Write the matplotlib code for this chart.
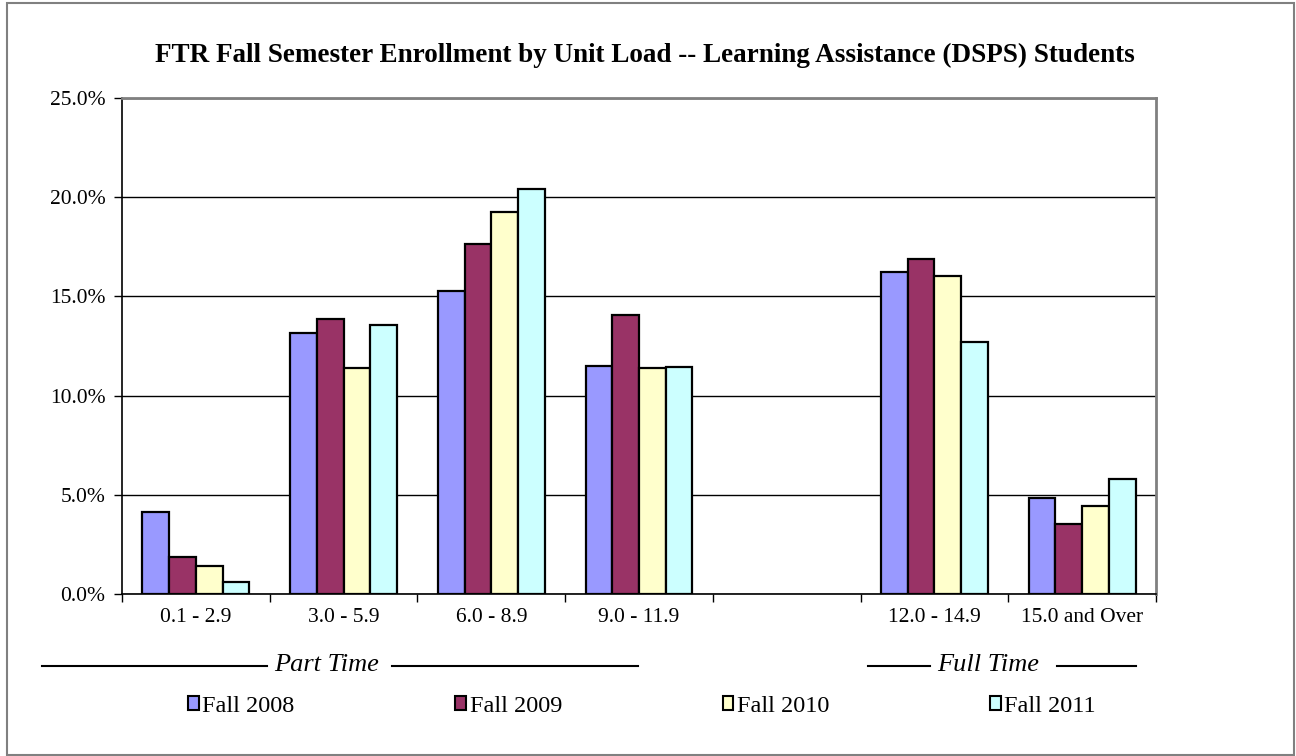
import matplotlib
matplotlib.use("Agg")
import matplotlib.pyplot as plt
from matplotlib.patches import Rectangle, Patch
from matplotlib.lines import Line2D
import numpy as np

plt.rcParams['font.family'] = ['Liberation Serif', 'DejaVu Serif']

categories = ["0.1 - 2.9", "3.0 - 5.9", "6.0 - 8.9", "9.0 - 11.9", "", "12.0 - 14.9", "15.0 and Over"]
series_names = ["Fall 2008", "Fall 2009", "Fall 2010", "Fall 2011"]
fall_2008 = [4.13, 13.15, 15.29, 11.51, np.nan, 16.21, 4.85]
fall_2009 = [1.87, 13.86, 17.62, 14.08, np.nan, 16.89, 3.55]
fall_2010 = [1.39, 11.41, 19.23, 11.41, np.nan, 16.04, 4.42]
fall_2011 = [0.63, 13.54, 20.41, 11.46, np.nan, 12.70, 5.82]
colors = ["#9999FF", "#993366", "#FFFFCC", "#CCFFFF"]
yticks = [0, 5, 10, 15, 20, 25]
title = "FTR Fall Semester Enrollment by Unit Load -- Learning Assistance (DSPS) Students"
group_labels = ["Part Time", "Full Time"]

W, H = 1296, 756
fig = plt.figure(figsize=(W / 100, H / 100), dpi=100)
fig.patch.set_facecolor("white")
fig.add_artist(Rectangle((7 / W, 1 - 755 / H), 1287 / W, 752 / H, transform=fig.transFigure,
                         fill=False, edgecolor="#808080", linewidth=1.5))

ax = fig.add_axes([122 / W, 1 - 594 / H, (1156 - 122) / W, (594 - 98) / H])
data = [fall_2008, fall_2009, fall_2010, fall_2011]
x = np.arange(len(categories))
bw = 0.181
for i, (vals, c, name) in enumerate(zip(data, colors, series_names)):
    ax.bar(x + (i - 1.5) * bw, vals, width=bw, color=c, edgecolor="black", linewidth=1.6,
           label=name, zorder=3)

ax.set_xlim(-0.5, len(categories) - 0.5)
ax.set_ylim(0, 25)
ax.set_yticks(yticks)
ax.set_yticklabels([f"{v:.1f}%" for v in yticks])
ax.yaxis.grid(True, color="black", linewidth=1.0, zorder=0)
ax.set_axisbelow(True)
ax.set_xticks(np.arange(-0.5, len(categories), 1.0), minor=False)
ax.set_xticklabels([""] * (len(categories) + 1))
ax.set_xticks(x, minor=True)
ax.set_xticklabels(categories, minor=True)
ax.tick_params(axis="x", which="minor", length=0, pad=10, labelsize=15.5)
ax.tick_params(axis="x", which="major", length=6, direction="out", width=1)
ax.tick_params(axis="y", length=6, direction="out", width=1, labelsize=15.5, pad=6)
for s in ["left", "bottom"]:
    ax.spines[s].set_color("black")
    ax.spines[s].set_linewidth(1.2)
for s in ["top", "right"]:
    ax.spines[s].set_color("#808080")
    ax.spines[s].set_linewidth(2)

fig.text(645 / W, 1 - 55 / H, title, ha="center", va="center", fontsize=19.5, fontweight="bold")

# group annotations
def grp(label, x0, x1, tx0, tx1, tc):
    y = 1 - 666 / H
    fig.add_artist(Line2D([x0 / W, tx0 / W], [y, y], color="black", linewidth=1.5))
    fig.add_artist(Line2D([tx1 / W, x1 / W], [y, y], color="black", linewidth=1.5))
    fig.text(tc / W, y + 1 / H, label, ha="center", va="center", fontsize=19, style="italic")

grp(group_labels[0], 42, 638, 267, 392, 327)
grp(group_labels[1], 868, 1136, 930, 1057, 988)

handles = [Patch(facecolor=c, edgecolor="black", linewidth=1.5) for c in colors]
fig.legend(handles, series_names, loc="center", bbox_to_anchor=(642 / W, 1 - 706 / H),
           ncol=4, frameon=False, fontsize=17.5, handlelength=0.45, handleheight=0.5,
           handletextpad=0.15, columnspacing=6.6, borderaxespad=0)

fig.savefig("out.png", dpi=100)
